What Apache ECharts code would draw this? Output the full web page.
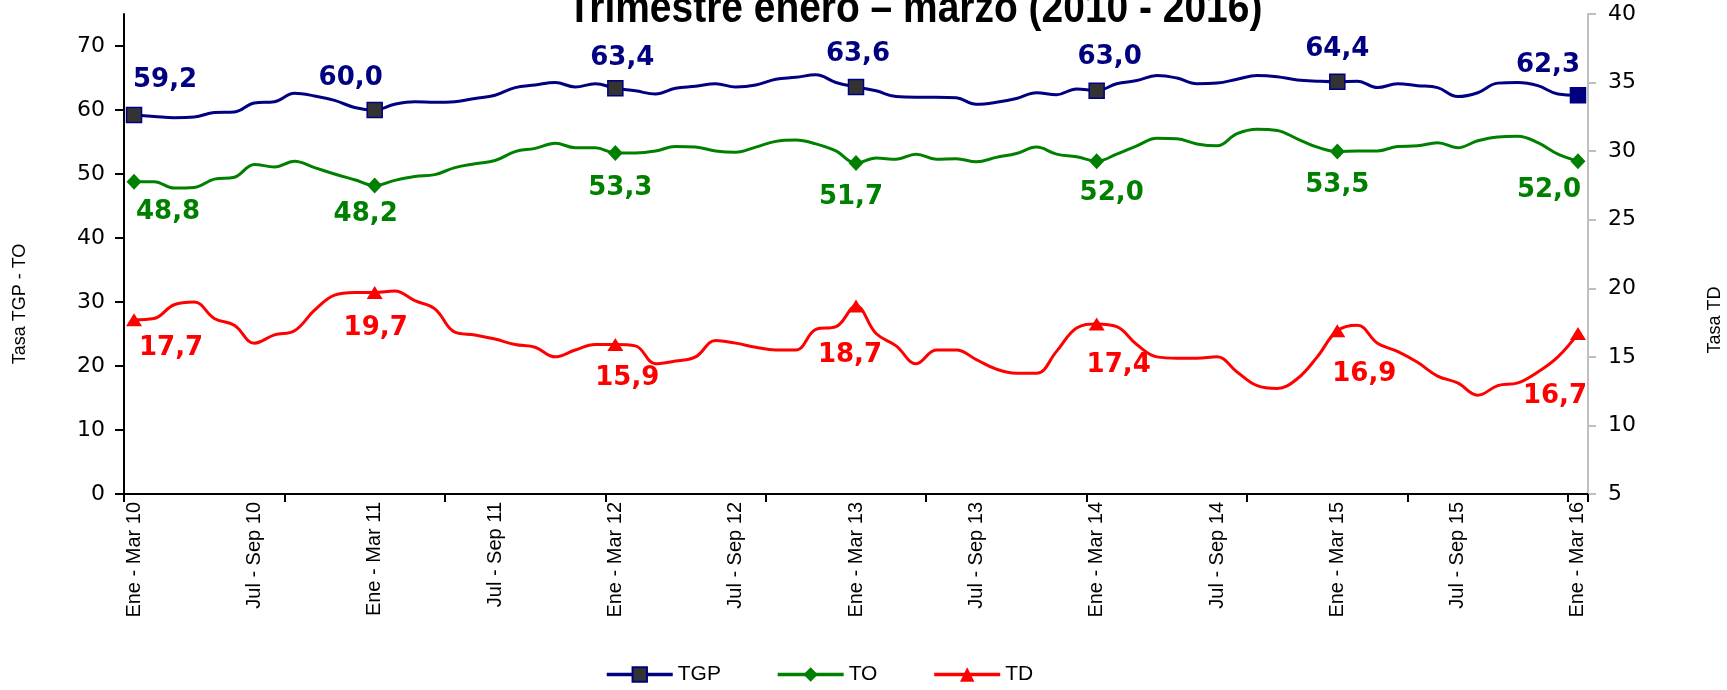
<!DOCTYPE html>
<html>
<head>
<meta charset="utf-8">
<script src="https://cdn.jsdelivr.net/npm/echarts@6/dist/echarts.min.js"></script>
<style>
  html, body { margin: 0; padding: 0; background: #ffffff; }
  #chart { width: 1727px; height: 690px; }
</style>
</head>
<body>
<div id="chart"></div>
<script>
// Rolling quarters, January-March 2010 to January-March 2016
const categories = [
  'Ene - Mar 10','Feb - Abr 10','Mar - May 10','Abr - Jun 10','May - Jul 10','Jun - Ago 10','Jul - Sep 10','Ago - Oct 10','Sep - Nov 10','Oct - Dic 10','Nov - Ene 11','Dic - Feb 11',
  'Ene - Mar 11','Feb - Abr 11','Mar - May 11','Abr - Jun 11','May - Jul 11','Jun - Ago 11','Jul - Sep 11','Ago - Oct 11','Sep - Nov 11','Oct - Dic 11','Nov - Ene 12','Dic - Feb 12',
  'Ene - Mar 12','Feb - Abr 12','Mar - May 12','Abr - Jun 12','May - Jul 12','Jun - Ago 12','Jul - Sep 12','Ago - Oct 12','Sep - Nov 12','Oct - Dic 12','Nov - Ene 13','Dic - Feb 13',
  'Ene - Mar 13','Feb - Abr 13','Mar - May 13','Abr - Jun 13','May - Jul 13','Jun - Ago 13','Jul - Sep 13','Ago - Oct 13','Sep - Nov 13','Oct - Dic 13','Nov - Ene 14','Dic - Feb 14',
  'Ene - Mar 14','Feb - Abr 14','Mar - May 14','Abr - Jun 14','May - Jul 14','Jun - Ago 14','Jul - Sep 14','Ago - Oct 14','Sep - Nov 14','Oct - Dic 14','Nov - Ene 15','Dic - Feb 15',
  'Ene - Mar 15','Feb - Abr 15','Mar - May 15','Abr - Jun 15','May - Jul 15','Jun - Ago 15','Jul - Sep 15','Ago - Oct 15','Sep - Nov 15','Oct - Dic 15','Nov - Ene 16','Dic - Feb 16',
  'Ene - Mar 16'
];

// Tasa global de participación (left axis)
const tgp = [
  59.2, 59.0, 58.8, 58.9, 59.6, 59.7, 61.1, 61.3, 62.6, 62.2, 61.5, 60.4,
  60.0, 60.9, 61.3, 61.2, 61.3, 61.8, 62.3, 63.5, 63.9, 64.3, 63.6, 64.1,
  63.4, 63.0, 62.5, 63.4, 63.7, 64.1, 63.6, 63.9, 64.8, 65.1, 65.5, 64.3,
  63.6, 63.0, 62.1, 62.0, 62.0, 61.9, 60.9, 61.2, 61.8, 62.7, 62.4, 63.3,
  63.0, 64.1, 64.6, 65.4, 65.0, 64.1, 64.2, 64.8, 65.4, 65.2, 64.7, 64.5,
  64.4, 64.5, 63.5, 64.1, 63.8, 63.5, 62.1, 62.7, 64.2, 64.3, 63.8, 62.5,
  62.3
];

// Tasa de ocupación (left axis)
const to = [
  48.8, 48.8, 47.8, 47.9, 49.2, 49.5, 51.5, 51.1, 52.0, 51.0, 50.0, 49.1,
  48.2, 49.0, 49.6, 49.9, 51.0, 51.6, 52.1, 53.5, 54.0, 54.8, 54.1, 54.1,
  53.3, 53.3, 53.6, 54.3, 54.2, 53.6, 53.4, 54.2, 55.1, 55.3, 54.7, 53.6,
  51.7, 52.5, 52.3, 53.1, 52.3, 52.4, 51.9, 52.6, 53.2, 54.2, 53.1, 52.7,
  52.0, 53.1, 54.4, 55.6, 55.5, 54.7, 54.4, 56.3, 57.0, 56.8, 55.5, 54.2,
  53.5, 53.6, 53.6, 54.3, 54.4, 54.9, 54.1, 55.2, 55.8, 55.9, 54.9, 53.1,
  52.0
];

// Tasa de desempleo (right axis)
const td = [
  17.7, 17.8, 18.8, 19.0, 17.8, 17.3, 16.0, 16.6, 16.9, 18.4, 19.5, 19.7,
  19.7, 19.8, 19.1, 18.5, 16.8, 16.6, 16.3, 15.9, 15.7, 15.0, 15.5, 15.9,
  15.9, 15.8, 14.5, 14.7, 15.0, 16.2, 16.0, 15.7, 15.5, 15.5, 17.0, 17.2,
  18.7, 16.7, 15.8, 14.5, 15.5, 15.5, 14.8, 14.1, 13.8, 13.8, 15.4, 17.1,
  17.4, 17.2, 15.9, 15.0, 14.9, 14.9, 15.0, 13.9, 12.9, 12.7, 13.4, 15.0,
  16.9, 17.3, 16.0, 15.4, 14.6, 13.6, 13.1, 12.2, 12.9, 13.1, 13.9, 15.0,
  16.7
];

// Points that carry a marker and a value label (each January-March quarter)
const markedIndex = [0, 12, 24, 36, 48, 60, 72];

// Tick labels
const leftTicks = [0, 10, 20, 30, 40, 50, 60, 70];
const rightTicks = [5, 10, 15, 20, 25, 30, 35, 40];

// Label placement relative to each marker, in pixels [dx, dy]
const tgpLabelShift = [[31, -35], [-24, -32], [7, -30], [2, -33], [13, -34], [0, -33], [-30, -30]];
const toLabelShift  = [[34, 31], [-9, 29], [5, 35], [-5, 34], [15, 32], [0, 34], [-29, 29]];
const tdLabelShift  = [[37, 28], [1, 36], [12, 34], [-6, 49], [22, 41], [27, 43], [-23, 63]];

const fmt = v => v.toFixed(1).replace('.', ',');

function buildData(values, shifts, lastItemStyle) {
  return values.map((v, i) => {
    const k = markedIndex.indexOf(i);
    if (k < 0) {
      return { value: v, symbol: 'none', label: { show: false } };
    }
    const item = { value: v, label: { show: true, offset: shifts[k] } };
    if (lastItemStyle && i === values.length - 1) item.itemStyle = lastItemStyle;
    return item;
  });
}

const labelFont = { fontFamily: 'DejaVu Sans', fontWeight: 'bold', fontSize: 26 };
const axisFont = { fontFamily: 'DejaVu Sans', color: '#000000' };

const chart = echarts.init(document.getElementById('chart'), null, { renderer: 'canvas' });

chart.setOption({
  animation: false,
  backgroundColor: '#ffffff',
  textStyle: { fontFamily: 'Liberation Sans' },
  graphic: [
    {
      type: 'text',
      x: 915,
      y: 10,
      scaleX: 0.885,
      z: 100,
      style: {
        text: 'Trimestre enero – marzo (2010 - 2016)',
        font: 'bold 44px "Liberation Sans"',
        fill: '#000000',
        align: 'center',
        verticalAlign: 'middle'
      }
    },
    {
      type: 'text',
      x: 20,
      y: 304,
      rotation: Math.PI / 2,
      style: {
        text: 'Tasa TGP - TO',
        font: '18px "Liberation Sans"',
        fill: '#000000',
        align: 'center',
        verticalAlign: 'middle'
      }
    },
    {
      type: 'text',
      x: 1715,
      y: 320,
      rotation: Math.PI / 2,
      style: {
        text: 'Tasa TD',
        font: '18px "Liberation Sans"',
        fill: '#000000',
        align: 'center',
        verticalAlign: 'middle'
      }
    }
  ],
  grid: { left: 124, right: 139, top: 14, bottom: 196, containLabel: false },
  legend: {
    data: ['TGP', 'TO', 'TD'],
    left: 600,
    bottom: 0,
    itemWidth: 66,
    itemHeight: 18,
    itemGap: 55,
    lineStyle: { width: 3.5 },
    textStyle: { fontSize: 21, color: '#000000', fontFamily: 'Liberation Sans' }
  },
  xAxis: {
    type: 'category',
    data: categories,
    boundaryGap: true,
    axisLine: { lineStyle: { color: '#000000', width: 2 } },
    axisTick: { show: true, interval: 7, length: 8, lineStyle: { color: '#000000', width: 2 } },
    axisLabel: { interval: 5, rotate: 90, fontSize: 20, margin: 8, color: '#000000', fontFamily: 'Liberation Sans' },
    splitLine: { show: false }
  },
  yAxis: [
    {
      type: 'value',
      position: 'left',
      min: 0,
      max: 75,
      axisLine: { show: true, lineStyle: { color: '#000000', width: 2 } },
      axisTick: { show: true, length: 9, customValues: leftTicks, lineStyle: { color: '#000000', width: 2 } },
      axisLabel: Object.assign({ customValues: leftTicks, fontSize: 22, margin: 19 }, axisFont),
      splitLine: { show: false }
    },
    {
      type: 'value',
      position: 'right',
      min: 5,
      max: 40,
      interval: 5,
      axisLine: { show: true, lineStyle: { color: '#BFBFBF', width: 2 } },
      axisTick: { show: true, length: 8, customValues: rightTicks, lineStyle: { color: '#BFBFBF', width: 2 } },
      axisLabel: Object.assign({ customValues: rightTicks, fontSize: 22, margin: 20 }, axisFont),
      splitLine: { show: false }
    }
  ],
  series: [
    {
      name: 'TGP',
      type: 'line',
      yAxisIndex: 0,
      smooth: 0.4,
      showAllSymbol: true,
      symbol: 'rect',
      symbolSize: 15,
      lineStyle: { color: '#000080', width: 3 },
      itemStyle: { color: '#333333', borderColor: '#000080', borderWidth: 1.5 },
      label: Object.assign({ position: 'inside', color: '#000080', formatter: p => fmt(p.value) }, labelFont),
      emphasis: { disabled: true },
      z: 3,
      data: buildData(tgp, tgpLabelShift, { color: '#000080' })
    },
    {
      name: 'TO',
      type: 'line',
      yAxisIndex: 0,
      smooth: 0.4,
      showAllSymbol: true,
      symbol: 'diamond',
      symbolSize: [15, 16],
      lineStyle: { color: '#008000', width: 3 },
      itemStyle: { color: '#008000' },
      label: Object.assign({ position: 'inside', color: '#008000', formatter: p => fmt(p.value) }, labelFont),
      emphasis: { disabled: true },
      z: 3,
      data: buildData(to, toLabelShift)
    },
    {
      name: 'TD',
      type: 'line',
      yAxisIndex: 1,
      smooth: 0.4,
      showAllSymbol: true,
      symbol: 'triangle',
      symbolSize: [16, 13],
      lineStyle: { color: '#FF0000', width: 3 },
      itemStyle: { color: '#FF0000' },
      label: Object.assign({ position: 'inside', color: '#FF0000', formatter: p => fmt(p.value) }, labelFont),
      emphasis: { disabled: true },
      z: 3,
      data: buildData(td, tdLabelShift)
    }
  ]
});
</script>
</body>
</html>
